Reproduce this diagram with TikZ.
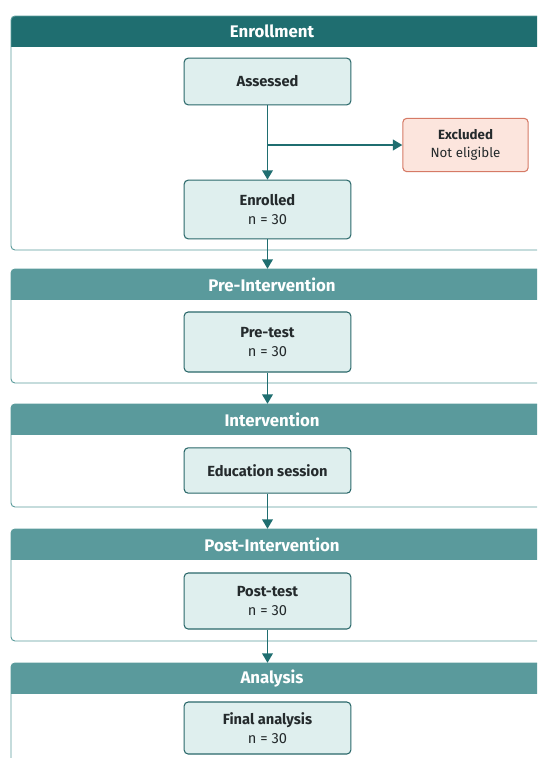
\documentclass[tikz,border=0pt]{standalone}
\usepackage{fontspec}
\setmainfont{Fira Sans}
\usetikzlibrary{arrows.meta,positioning,calc}
\definecolor{TealDark}{RGB}{31,110,112}
\definecolor{TealMid}{RGB}{90,154,156}
\definecolor{TealLine}{RGB}{92,156,156}
\definecolor{TealFill}{RGB}{223,239,238}
\definecolor{TealEdge}{RGB}{42,104,106}
\definecolor{ExclFill}{RGB}{252,229,221}
\definecolor{ExclEdge}{RGB}{214,122,102}
\definecolor{InkDark}{RGB}{36,42,44}

\begin{document}
\begin{tikzpicture}[
    x=0.75pt,y=0.75pt,
    stage/.style={draw=TealEdge, fill=TealFill, line width=0.8pt, rounded corners=3pt, minimum width=125pt, align=center, font=\fontsize{11}{14}\selectfont, text=InkDark},
    excl/.style={draw=ExclEdge, fill=ExclFill, line width=0.8pt, rounded corners=3pt, minimum width=94pt, minimum height=40pt, align=center, font=\fontsize{10}{13.5}\selectfont, text=InkDark},
    phasetitle/.style={minimum height=23.25pt, inner sep=0pt, font=\bfseries\fontsize{12.6}{14}\selectfont, text=white},
    panel/.style={draw=TealLine, line width=0.7pt, rounded corners=3pt},
    flow/.style={draw=TealDark, line width=1.1pt, -{Triangle[length=7pt,width=8pt]}}
  ]
    \clip (0,0) rectangle (537,-758);
    % phase panels: name/title/top/bottom/header colour
    \foreach \n/\t/\top/\bot/\hc in {hEnr/Enrollment/16/250/TealDark,
                                    hPre/Pre-Intervention/269/383/TealMid,
                                    hInt/Intervention/404/507/TealMid,
                                    hPost/Post-Intervention/529/641/TealMid,
                                    hAna/Analysis/663/790/TealMid} {
      \begin{scope}
        \clip[rounded corners=3pt] (11,-\top) rectangle (570,-\bot);
        \fill[white] (11,-\top) rectangle (570,-\bot);
        \fill[\hc] (11,-\top) rectangle (570,-\top-31);
      \end{scope}
      \draw[panel] (11,-\top) rectangle (570,-\bot);
      \node[phasetitle] (\n) at (272,-\top-15.5) {\t};
    }

    \node[stage, minimum height=35pt] (assessed) at (267.5,-81.5) {\textbf{Assessed}};
    \node[stage, minimum height=44pt] (enrolled) at (267.5,-209.5) {\textbf{Enrolled}\\n = 30};
    \node[excl] (excluded) at (465.5,-145) {\textbf{Excluded}\\Not eligible};
    \node[stage, minimum height=45pt] (pretest) at (267.5,-342) {\textbf{Pre-test}\\n = 30};
    \node[stage, minimum height=34pt] (education) at (267.5,-470.5) {\textbf{Education session}};
    \node[stage, minimum height=42pt] (posttest) at (267.5,-601) {\textbf{Post-test}\\n = 30};
    \node[stage, minimum height=39pt] (final) at (267.5,-728) {\textbf{Final analysis}\\n = 30};

    \draw[flow] (assessed) -- (enrolled);
    \draw[flow] (assessed.south |- excluded.west) -- (excluded.west);
    \draw[flow] (enrolled) -- (enrolled.south |- hPre.north);
    \draw[flow] (pretest) -- (pretest.south |- hInt.north);
    \draw[flow] (education) -- (education.south |- hPost.north);
    \draw[flow] (posttest) -- (posttest.south |- hAna.north);
  \end{tikzpicture}
\end{document}
